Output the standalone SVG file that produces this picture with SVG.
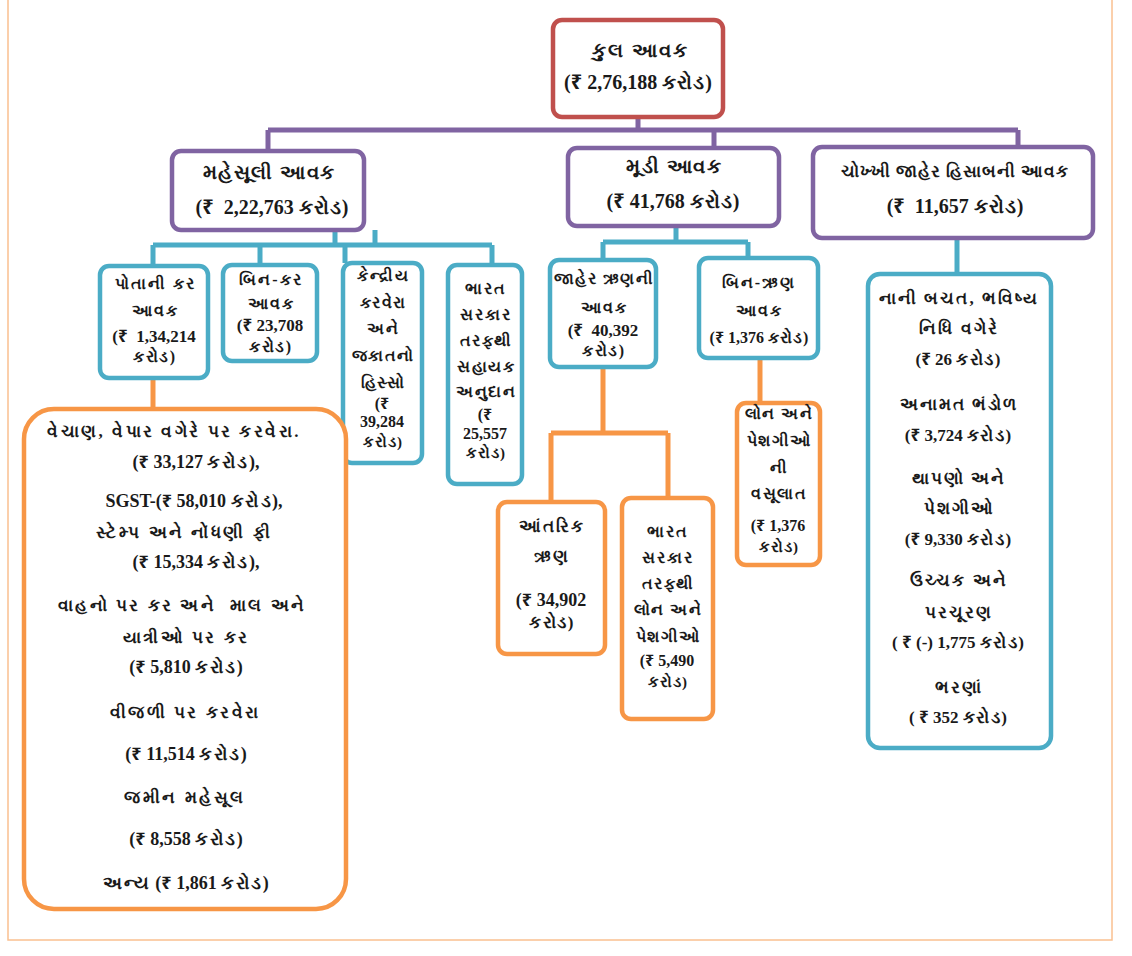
<svg xmlns="http://www.w3.org/2000/svg" width="1132" height="956" viewBox="0 0 1132 956">
<style>
.bg{fill:#ffffff}
.page{fill:none;stroke:#FAC090;stroke-width:1.5}
.red{fill:#fff;stroke:#C0504D;stroke-width:4.5}
.pur{fill:#fff;stroke:#8064A2;stroke-width:4.5}
.teal{fill:#fff;stroke:#4BACC6;stroke-width:4.5}
.org{fill:#fff;stroke:#F79646;stroke-width:4.5}
.cp{fill:none;stroke:#8064A2;stroke-width:5}
.ct{fill:none;stroke:#4BACC6;stroke-width:5}
.co{fill:none;stroke:#F79646;stroke-width:5}
text{font-family:"Liberation Serif","Noto Sans",serif;font-weight:bold;fill:#1a1a1a;text-anchor:middle;white-space:pre}
.t20{font-size:20px}
.t18{font-size:18px}
.t17{font-size:17px}
.t16{font-size:16px}
.t15{font-size:15px}
.g1{letter-spacing:1px}
.g15{letter-spacing:1.5px}
.g2{letter-spacing:2px}
.g25{letter-spacing:2.5px}
</style>
<rect class="bg" x="0" y="0" width="1132" height="956"/>
<rect class="page" x="8" y="-4" width="1104" height="944"/>
<g id="connectors">
  <path class="cp" d="M638 117 V130 M268 130 H1018 M268 130 V150 M714 130 V148 M1018 130 V147"/>
  <path class="ct" d="M153 245 H492 M335 230 V245 M375 230 V245 M153 245 V266 M260 245 V265 M345 245 V263 M492 245 V265"/>
  <path class="ct" d="M676 226 V242 M603 242 H748 M603 242 V260 M748 242 V258"/>
  <path class="ct" d="M957 238 V274"/>
  <path class="co" d="M153 378 V408"/>
  <path class="co" d="M603 367 V433 M551 433 H668 M551 433 V502 M668 433 V498"/>
  <path class="co" d="M760 358 V403"/>
</g>
<g id="n-total">
  <rect class="red" x="553" y="20" width="170" height="97" rx="9"/>
  <text class="t20 g2" x="640" y="57">કુલ આવક</text>
  <text class="t20" x="638" y="89">(₹ 2,76,188 <tspan class="g1">કરોડ</tspan>)</text>
</g>
<g id="n-revenue">
  <rect class="pur" x="172" y="151" width="192" height="79" rx="9"/>
  <text class="t20 g15" x="269" y="179">મહેસૂલી આવક</text>
  <text class="t20" x="272" y="214">(₹  2,22,763 <tspan class="g1">કરોડ</tspan>)</text>
</g>
<g id="n-capital">
  <rect class="pur" x="568" y="148" width="211" height="78" rx="9"/>
  <text class="t20 g15" x="674" y="173">મૂડી આવક</text>
  <text class="t20" x="673" y="208">(₹ 41,768 <tspan class="g1">કરોડ</tspan>)</text>
</g>
<g id="n-public">
  <rect class="pur" x="813" y="147" width="280" height="91" rx="9"/>
  <text class="t17 g1" x="955" y="177">ચોખ્ખી જાહેર હિસાબની આવક</text>
  <text class="t20" x="955" y="213">(₹  11,657 <tspan class="g1">કરોડ</tspan>)</text>
</g>
<g id="n-owntax">
  <rect class="teal" x="100" y="266" width="108" height="112" rx="9"/>
  <text class="t16 g2" x="155" y="289">પોતાની કર</text>
  <text class="t16 g2" x="155" y="316">આવક</text>
  <text class="t17" x="154" y="342">(₹  1,34,214</text>
  <text class="t16 g15" x="155" y="362">કરોડ)</text>
</g>
<g id="n-nontax">
  <rect class="teal" x="223" y="265" width="94" height="96" rx="9"/>
  <text class="t16 g2" x="271" y="285">બિન-કર</text>
  <text class="t16 g2" x="271" y="309">આવક</text>
  <text class="t17" x="270" y="331">(₹ 23,708</text>
  <text class="t16 g15" x="271" y="352">કરોડ)</text>
</g>
<g id="n-central">
  <rect class="teal" x="343" y="263" width="79" height="200" rx="9"/>
  <text class="t16 g15" x="383" y="281">કેન્દ્રીય</text>
  <text class="t16 g15" x="383" y="308">કરવેરા</text>
  <text class="t16 g15" x="383" y="334">અને</text>
  <text class="t16 g15" x="383" y="361">જકાતનો</text>
  <text class="t16 g15" x="383" y="388">હિસ્સો</text>
  <text class="t16" x="382" y="409">(₹</text>
  <text class="t16" x="382" y="427">39,284</text>
  <text class="t15 g1" x="383" y="447">કરોડ)</text>
</g>
<g id="n-grant">
  <rect class="teal" x="448" y="265" width="74" height="219" rx="9"/>
  <text class="t16 g2" x="486" y="294">ભારત</text>
  <text class="t16 g2" x="486" y="320">સરકાર</text>
  <text class="t16 g15" x="486" y="346">તરફથી</text>
  <text class="t16 g15" x="486" y="372">સહાયક</text>
  <text class="t16 g15" x="486" y="397">અનુદાન</text>
  <text class="t16" x="485" y="420">(₹</text>
  <text class="t16" x="485" y="439">25,557</text>
  <text class="t15 g1" x="486" y="458">કરોડ)</text>
</g>
<g id="n-debt">
  <rect class="teal" x="550" y="260" width="106" height="107" rx="9"/>
  <text class="t16 g15" x="604" y="284">જાહેર ઋણની</text>
  <text class="t16 g2" x="604" y="313">આવક</text>
  <text class="t17" x="603" y="336">(₹  40,392</text>
  <text class="t16 g15" x="604" y="356">કરોડ)</text>
</g>
<g id="n-nondebt">
  <rect class="teal" x="699" y="258" width="119" height="100" rx="9"/>
  <text class="t16 g2" x="759" y="288">બિન-ઋણ</text>
  <text class="t16 g2" x="759" y="316">આવક</text>
  <text class="t16" x="759" y="343">(₹ 1,376 <tspan class="g1">કરોડ</tspan>)</text>
</g>
<g id="n-publicacc">
  <rect class="teal" x="868" y="274" width="183" height="474" rx="12"/>
  <text class="t17 g2" x="959" y="304">નાની બચત, ભવિષ્ય</text>
  <text class="t17 g2" x="959" y="334">નિધિ વગેરે</text>
  <text class="t17" x="958" y="365">(₹ 26 <tspan class="g15">કરોડ</tspan>)</text>
  <text class="t17 g2" x="959" y="410">અનામત ભંડોળ</text>
  <text class="t17" x="958" y="441">(₹ 3,724 <tspan class="g15">કરોડ</tspan>)</text>
  <text class="t17 g2" x="959" y="484">થાપણો અને</text>
  <text class="t17 g2" x="959" y="514">પેશગીઓ</text>
  <text class="t17" x="958" y="545">(₹ 9,330 <tspan class="g15">કરોડ</tspan>)</text>
  <text class="t17 g2" x="959" y="586">ઉચ્ચક અને</text>
  <text class="t17 g2" x="959" y="618">પરચૂરણ</text>
  <text class="t17" x="958" y="648">( ₹ (-) 1,775 <tspan class="g15">કરોડ</tspan>)</text>
  <text class="t17 g2" x="959" y="693">ભરણાં</text>
  <text class="t17" x="958" y="723">( ₹ 352 <tspan class="g15">કરોડ</tspan>)</text>
</g>
<g id="n-taxdetail">
  <rect class="org" x="24" y="409" width="322" height="500" rx="30"/>
  <text class="t17 g25" x="174" y="437">વેચાણ, વેપાર વગેરે પર કરવેરા.</text>
  <text class="t18" x="196" y="468">(₹ 33,127 <tspan class="g15">કરોડ</tspan>),</text>
  <text class="t18" x="194" y="507">SGST-(₹ 58,010 <tspan class="g15">કરોડ</tspan>),</text>
  <text class="t17 g25" x="184" y="538">સ્ટેમ્પ અને નોંધણી ફી</text>
  <text class="t18" x="196" y="568">(₹ 15,334 <tspan class="g15">કરોડ</tspan>),</text>
  <text class="t17 g25" x="182" y="611">વાહનો પર કર અને  માલ અને</text>
  <text class="t17 g25" x="186" y="643">યાત્રીઓ પર કર</text>
  <text class="t18" x="186" y="673">(₹ 5,810 <tspan class="g15">કરોડ</tspan>)</text>
  <text class="t17 g25" x="185" y="718">વીજળી પર કરવેરા</text>
  <text class="t18" x="186" y="760">(₹ 11,514 <tspan class="g15">કરોડ</tspan>)</text>
  <text class="t17 g25" x="185" y="803">જમીન મહેસૂલ</text>
  <text class="t18" x="186" y="845">(₹ 8,558 <tspan class="g15">કરોડ</tspan>)</text>
  <text class="t18" x="186" y="889"><tspan class="g15">અન્ય</tspan> (₹ 1,861 <tspan class="g15">કરોડ</tspan>)</text>
</g>
<g id="n-internal">
  <rect class="org" x="498" y="502" width="107" height="152" rx="9"/>
  <text class="t17 g2" x="552" y="532">આંતરિક</text>
  <text class="t17 g2" x="552" y="562">ઋણ</text>
  <text class="t18" x="551" y="606">(₹ 34,902</text>
  <text class="t17 g15" x="552" y="628">કરોડ)</text>
</g>
<g id="n-loans">
  <rect class="org" x="622" y="498" width="91" height="221" rx="9"/>
  <text class="t16 g2" x="668" y="537">ભારત</text>
  <text class="t16 g2" x="668" y="563">સરકાર</text>
  <text class="t16 g15" x="668" y="589">તરફથી</text>
  <text class="t16 g15" x="668" y="615">લોન અને</text>
  <text class="t16 g15" x="668" y="642">પેશગીઓ</text>
  <text class="t16" x="667" y="666">(₹ 5,490</text>
  <text class="t15 g1" x="668" y="687">કરોડ)</text>
</g>
<g id="n-recovery">
  <rect class="org" x="737" y="403" width="83" height="162" rx="9"/>
  <text class="t16 g15" x="779" y="419">લોન અને</text>
  <text class="t16 g15" x="779" y="446">પેશગીઓ</text>
  <text class="t16 g15" x="779" y="473">ની</text>
  <text class="t16 g15" x="779" y="499">વસૂલાત</text>
  <text class="t16" x="778" y="531">(₹ 1,376</text>
  <text class="t15 g1" x="779" y="552">કરોડ)</text>
</g>
</svg>
